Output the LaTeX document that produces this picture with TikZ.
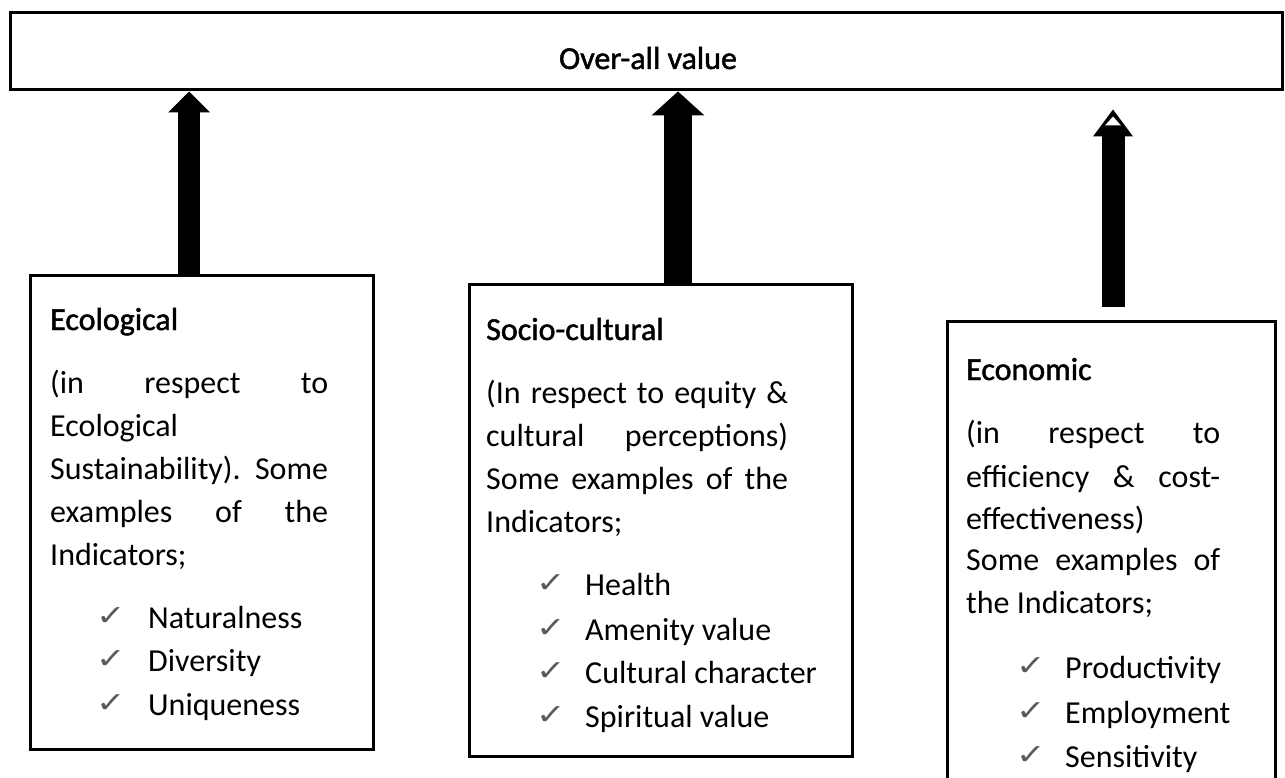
\documentclass[tikz,border=0pt]{standalone}
\usepackage{fontspec}
\setmainfont{Carlito}
\newfontfamily\symfont{DejaVu Sans}
\newfontfamily\hdfont{Carlito}[FakeBold=1.5]
\usepackage{graphicx}
\usetikzlibrary{arrows.meta,calc}
\newcommand{\ck}{\scalebox{1.6}[1.3]{✓}}
\begin{document}
\begin{tikzpicture}[x=1pt,y=-1pt,
  box/.style={draw,line width=3pt,inner sep=0pt},
  txt/.style={anchor=base west,inner sep=0pt,font=\fontsize{32}{43}\selectfont},
  hd/.style={anchor=base west,inner sep=0pt,font=\hdfont\fontsize{32}{43}\selectfont},
  chk/.style={anchor=base west,inner sep=0pt,text=black!65,font=\symfont\fontsize{22}{22}\selectfont},
  blk/.style={line width=#1},
]
\useasboundingbox (0,0) rectangle (1285,778);
% top box
\node[box, minimum width=1272pt, minimum height=77pt] (top) at (646,51.5) {};
\node[hd, anchor=base] (title) at (648,69) {Over-all value};
% boxes
\node[box, minimum width=343pt, minimum height=474pt] (eco) at (201.5,512) {};
\node[box, minimum width=383pt, minimum height=472pt] (soc) at (660.5,520) {};
\node[inner sep=0pt, minimum width=327pt, minimum height=456pt] (ecn) at (1111.5,550) {};
\draw[line width=3pt] (ecn.south west) -- (ecn.north west) -- (ecn.north east) -- (ecn.south east);
% arrows
\draw[blk=22pt, -{Triangle[width=42pt,length=21pt,line width=0pt]}]
  ([xshift=-12.5pt]eco.north) -- ([xshift=-12.5pt]eco.north |- top.south);
\draw[blk=28pt, -{Triangle[width=53pt,length=24pt,line width=0pt]}]
  ([xshift=17.5pt]soc.north) -- ([xshift=17.5pt]soc.north |- top.south);
\coordinate (a3b) at ($(ecn.north)+(1.5,-15)$);
\coordinate (a3t) at ($(ecn.north |- top.south)+(1.5,18)$);
\draw[blk=23pt, -{Triangle[width=40pt,length=27pt,line width=0pt]}] (a3b) -- (a3t);
\fill[white] ($(a3t)+(0,7)$) -- ($(a3t)+(-8,16)$) -- ($(a3t)+(8,16)$) -- cycle;
% Ecological text
\node[hd] (e0) at (50,330) {Ecological};
\node[txt] (e1) at (50,393) {\makebox[278pt][s]{(in respect to}};
\node[txt] (e2) at (50,436) {Ecological};
\node[txt] (e3) at (50,479) {\makebox[278pt][s]{Sustainability). Some}};
\node[txt] (e4) at (50,522) {\makebox[278pt][s]{examples of the}};
\node[txt] (e5) at (50,565) {Indicators;};
\node[chk] (ec1) at (96,625) {\ck};
\node[chk] (ec2) at (96,668) {\ck};
\node[chk] (ec3) at (96,712) {\ck};
\node[txt] (ei1) at (148,628) {Naturalness};
\node[txt] (ei2) at (148,671) {Diversity};
\node[txt] (ei3) at (148,715) {Uniqueness};
% Socio-cultural text
\node[hd] (s0) at (486,340) {Socio-cultural};
\node[txt] (s1) at (486,403) {\makebox[302pt][s]{(In respect to equity \&}};
\node[txt] (s2) at (486,446) {\makebox[302pt][s]{cultural perceptions)}};
\node[txt] (s3) at (486,489) {\makebox[302pt][s]{Some examples of the}};
\node[txt] (s4) at (486,532) {Indicators;};
\node[chk] (sc1) at (536,592) {\ck};
\node[chk] (sc2) at (536,637) {\ck};
\node[chk] (sc3) at (536,680) {\ck};
\node[chk] (sc4) at (536,724) {\ck};
\node[txt] (si1) at (585,595) {Health};
\node[txt] (si2) at (585,640) {Amenity value};
\node[txt] (si3) at (585,683) {Cultural character};
\node[txt] (si4) at (585,727) {Spiritual value};
% Economic text
\node[hd] (n0) at (966,380) {Economic};
\node[txt] (n1) at (966,443) {\makebox[254pt][s]{(in respect to}};
\node[txt] (n2) at (966,487) {\makebox[254pt][s]{efficiency \& cost-}};
\node[txt] (n3) at (966,529) {effectiveness)};
\node[txt] (n4) at (966,570) {\makebox[254pt][s]{Some examples of}};
\node[txt] (n5) at (966,613) {the Indicators;};
\node[chk] (nc1) at (1016,675) {\ck};
\node[chk] (nc2) at (1016,720) {\ck};
\node[chk] (nc3) at (1016,764) {\ck};
\node[txt] (ni1) at (1065,678) {Productivity};
\node[txt] (ni2) at (1065,723) {Employment};
\node[txt] (ni3) at (1065,767) {Sensitivity};
\end{tikzpicture}
\end{document}
